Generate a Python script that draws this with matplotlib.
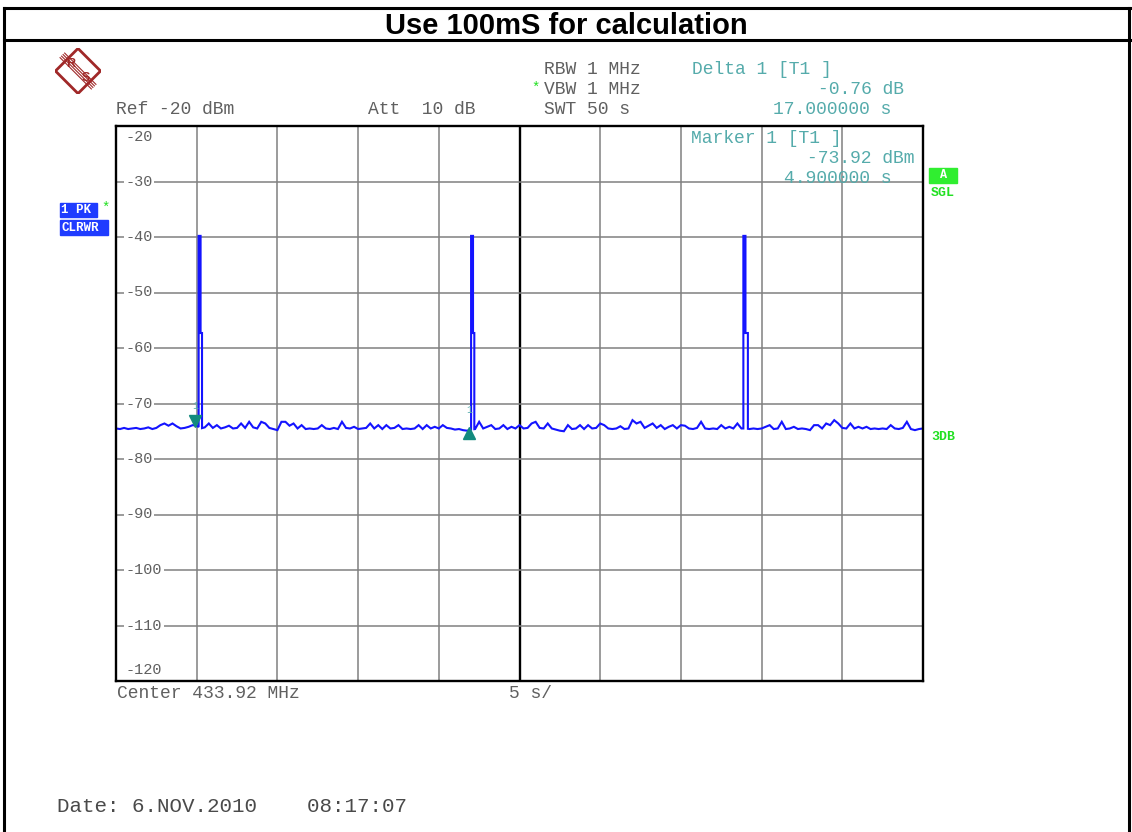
import numpy as np
import matplotlib
matplotlib.use("Agg")
import matplotlib.pyplot as plt
from matplotlib.lines import Line2D
from matplotlib.patches import Polygon, Rectangle

W, H = 1132, 832

# sweep settings
sweep_s = 50
ref_db = -20
bottom_db = -120
grid_db = [-30, -40, -50, -60, -70, -80, -90, -100, -110]
grid_s = [5, 10, 15, 20, 30, 35, 40, 45]
center_s = 25

noise_step_s = 0.25
noise_db = [
    -74.5, -74.6, -74.4, -74.6, -74.5, -74.4, -74.6, -74.5, -74.3, -74.6,
    -74.4, -73.9, -73.6, -74.0, -73.6, -74.1, -74.5, -74.4, -74.2, -73.9,
    -74.0, -74.5, -74.3, -73.6, -74.4, -73.9, -74.5, -74.3, -74.0, -74.5,
    -74.4, -73.6, -74.4, -73.3, -74.3, -74.5, -73.3, -73.6, -74.4, -74.6,
    -74.8, -73.3, -73.3, -74.0, -73.6, -74.5, -73.9, -74.6, -74.5, -74.6,
    -74.5, -73.9, -74.5, -74.6, -74.4, -74.6, -73.3, -74.4, -74.5, -74.2,
    -74.6, -74.5, -74.4, -73.6, -74.5, -73.9, -74.6, -73.9, -74.5, -74.4,
    -73.9, -74.6, -74.5, -74.6, -74.5, -73.9, -74.6, -73.9, -74.5, -74.2,
    -74.5, -73.9, -74.4, -74.5, -74.7, -74.6, -74.8, -74.9, -74.7, -74.6,
    -73.3, -74.5, -74.2, -73.9, -74.6, -74.5, -73.9, -74.6, -74.2, -74.5,
    -73.9, -74.5, -74.4, -73.6, -73.3, -74.4, -74.5, -73.6, -74.5, -74.7,
    -74.9, -75.0, -73.9, -74.6, -74.5, -73.9, -74.6, -73.9, -74.5, -74.4,
    -73.6, -73.9, -74.5, -74.6, -74.5, -74.1, -74.6, -74.5, -73.0, -73.6,
    -73.3, -74.4, -74.0, -73.6, -74.4, -73.9, -74.6, -74.2, -73.9, -74.5,
    -73.9, -74.0, -74.5, -74.6, -74.4, -73.3, -74.5, -74.6, -74.5, -74.6,
    -73.9, -74.5, -74.2, -74.5, -73.6, -74.5, -74.5, -74.6, -74.5, -74.6,
    -74.5, -74.2, -73.9, -74.6, -74.5, -73.3, -74.6, -74.5, -74.2, -74.6,
    -74.5, -74.6, -74.8, -73.9, -73.9, -74.5, -73.6, -73.9, -73.0, -73.6,
    -74.4, -74.5, -73.6, -74.5, -74.2, -74.5, -74.2, -74.6, -74.5, -74.6,
    -74.5, -74.6, -73.9, -74.5, -74.6, -74.4, -73.3, -74.6, -74.8, -74.6,
    -74.5,
]

# the three bursts
spike_left_s = [5.12, 22.00, 38.87]
spike_mid_s = [5.24, 22.12, 39.00]
spike_right_s = [5.33, 22.20, 39.15]
spike_top_db = [-39.8, -39.8, -39.8]
spike_step_db = [-57.3, -57.3, -57.3]

# markers
marker_s = 4.9
marker_db = -73.92
delta_s = 17.0
delta_db = -0.76

blue = "#1414ff"
teal_txt = "#55abab"
teal_mark = "#138a7e"
green = "#22e022"
gray_txt = "#606060"
mono = "Liberation Mono"


def fx(x):
    return x / W


def fy(y):
    return 1 - y / H


def ftext(x, y, s, **kw):
    kw.setdefault("family", mono)
    kw.setdefault("fontsize", 13)
    kw.setdefault("color", gray_txt)
    kw.setdefault("va", "center")
    return fig.text(fx(x), fy(y), s, **kw)


fig = plt.figure(figsize=(W / 100, H / 100), dpi=100)

# page frame and title row
for xs, ys in [((4, 1132), (8, 8)), ((4, 1132), (40, 40)),
               ((4, 4), (8, 832)), ((1129, 1129), (8, 832))]:
    fig.add_artist(Line2D([fx(xs[0]), fx(xs[1])], [fy(ys[0]), fy(ys[1])],
                          lw=2.2, color="black"))
fig.text(fx(566), fy(26), "Use 100mS for calculation", ha="center", va="center",
         family="Liberation Sans", weight="bold", fontsize=21, color="black")

# R&S logo
logo = fig.add_axes([fx(55), fy(94), 46 / W, 46 / H])
logo.set_xlim(-1, 1)
logo.set_ylim(-1, 1)
logo.axis("off")
red = "#a02828"
logo.add_patch(Polygon([(0, 0.98), (0.98, 0), (0, -0.98), (-0.98, 0)],
                       closed=True, fill=False, ec=red, lw=2.0))
for k in np.linspace(-0.1, 0.1, 4):
    logo.plot([-0.68 + k, 0.68 + k], [0.68 + k, -0.68 + k], color=red, lw=0.8)
logo.text(-0.32, 0.3, "R", color=red, fontsize=9, weight="bold", zorder=5,
          ha="center", va="center", family="Liberation Sans")
logo.text(0.32, -0.32, "S", color=red, fontsize=9, weight="bold", zorder=5,
          ha="center", va="center", family="Liberation Sans")

# header texts
ftext(116, 110, "Ref -20 dBm")
ftext(368, 110, "Att  10 dB")
ftext(544, 69, "RBW 1 MHz")
ftext(544, 90, "VBW 1 MHz")
ftext(544, 110, "SWT 50 s")
ftext(536, 88, "*", color=green, fontsize=10, ha="center")
ftext(692, 69, "Delta 1 [T1 ]", color=teal_txt)
ftext(818, 90, f"{delta_db:.2f} dB", color=teal_txt)
ftext(773, 110, f"{delta_s:.6f} s", color=teal_txt)

# trace info boxes on the left
fig.add_artist(Rectangle((fx(60), fy(217)), 37 / W, 14 / H, color="#1f3cff",
                         transform=fig.transFigure))
fig.add_artist(Rectangle((fx(60), fy(235)), 48 / W, 15 / H, color="#1f3cff",
                         transform=fig.transFigure))
ftext(61, 210, "1 PK", color="white", weight="bold", fontsize=9)
ftext(61, 228, "CLRWR", color="white", weight="bold", fontsize=9)
ftext(106, 208, "*", color=green, fontsize=10, ha="center")

# status boxes on the right
fig.add_artist(Rectangle((fx(929), fy(183)), 28 / W, 15 / H, color="#30ee30",
                         transform=fig.transFigure))
ftext(943, 175, "A", color="white", weight="bold", fontsize=8.5, ha="center")
ftext(943, 193, "SGL", color=green, weight="bold", fontsize=9.5, ha="center")
ftext(943, 437, "3DB", color=green, weight="bold", fontsize=9.5, ha="center")

# screen
ax = fig.add_axes([fx(116), fy(681), (923 - 116) / W, (681 - 126) / H])
ax.set_xlim(0, sweep_s)
ax.set_ylim(bottom_db, ref_db)
ax.set_xticks([])
ax.set_yticks([])
for sp in ax.spines.values():
    sp.set_linewidth(1.7)
    sp.set_color("black")
    sp.set_zorder(6)

for s in grid_s:
    ax.axvline(s, color="#808080", lw=1.1, zorder=1)
ax.axvline(center_s, color="black", lw=1.7, zorder=1)
for v in grid_db:
    ax.axhline(v, color="#808080", lw=1.1, zorder=1)
    ax.text(0.58, v, f"{v}", family=mono, fontsize=11, color=gray_txt,
            ha="left", va="center", zorder=3,
            bbox=dict(facecolor="white", edgecolor="none", pad=1.2))
ax.text(0.58, -22.0, f"{ref_db}", family=mono, fontsize=11, color=gray_txt,
        ha="left", va="center", zorder=3)
ax.text(0.58, -118.0, f"{bottom_db}", family=mono, fontsize=11, color=gray_txt,
        ha="left", va="center", zorder=3)

# marker readout inside the screen
ax.text(0.713, 0.977, "Marker 1 [T1 ]", transform=ax.transAxes, family=mono,
        fontsize=13, color=teal_txt, va="center", zorder=3)
ax.text(0.856, 0.941, f"{marker_db:.2f} dBm", transform=ax.transAxes, family=mono,
        fontsize=13, color=teal_txt, va="center", zorder=3)
ax.text(0.828, 0.905, f"{marker_s:.6f} s", transform=ax.transAxes, family=mono,
        fontsize=13, color=teal_txt, va="center", zorder=3)

# build the trace: noise floor with the bursts cut in
t_noise = np.arange(len(noise_db)) * noise_step_s
pts = list(zip(t_noise, noise_db))
for tl, tm, tr, top, step in zip(spike_left_s, spike_mid_s, spike_right_s,
                                 spike_top_db, spike_step_db):
    pts = [p for p in pts if not (tl <= p[0] <= tr)]
    pts += [(tl, np.interp(tl, t_noise, noise_db)), (tl, top), (tm, top),
            (tm, step), (tr, step), (tr, np.interp(tr, t_noise, noise_db))]
pts.sort(key=lambda p: p[0])
tt, dd = zip(*pts)
ax.plot(tt, dd, color=blue, lw=1.5, zorder=4, solid_joinstyle="miter")

# marker symbols
ax.plot(marker_s, marker_db + 0.7, marker="v", ms=9, color=teal_mark, zorder=5)
ax.text(marker_s, -70.4, "1", family=mono, fontsize=7, color=teal_txt,
        ha="center", va="center", zorder=5)
ax.plot(marker_s + delta_s, marker_db + delta_db - 0.6, marker="^", ms=9,
        color=teal_mark, zorder=5)
ax.text(marker_s + delta_s, -71.2, "1", family=mono, fontsize=7, color=teal_txt,
        ha="center", va="center", zorder=5)

# footer texts
ftext(117, 694, "Center 433.92 MHz")
ftext(509, 694, "5 s/")
ftext(57, 806, "Date: 6.NOV.2010    08:17:07", fontsize=15, color="#4a4a4a")

fig.savefig("out.png", dpi=100)
